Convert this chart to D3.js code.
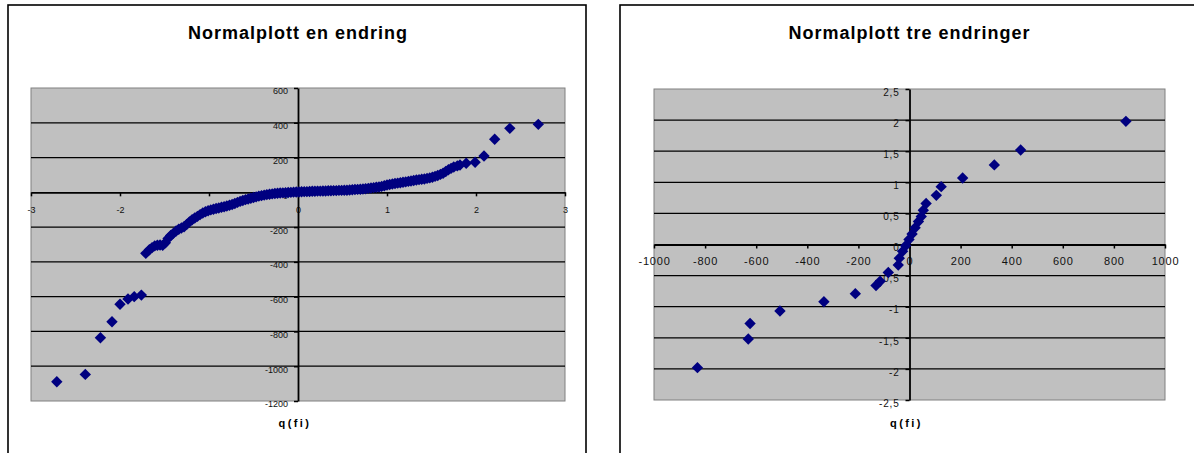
<!DOCTYPE html>
<html>
<head>
<meta charset="utf-8">
<script src="https://cdn.jsdelivr.net/npm/d3@7"></script>
<style>
  body { margin: 0; background: #fff; }
  svg { display: block; }
  text { font-family: "Liberation Sans", Arial, sans-serif; }
</style>
</head>
<body>
<svg id="chart" width="1194" height="453"></svg>
<script>
// Normalplott, én endring: kvantil q(fi) mot sortert verdi
const enQ = [
  -2.71, -2.39, -2.22, -2.09, -2.00, -1.91, -1.84, -1.76,
  -1.71, -1.67, -1.64, -1.61, -1.58, -1.55, -1.52, -1.49, -1.46, -1.43, -1.40, -1.37,
  -1.34, -1.31, -1.28, -1.25, -1.22, -1.19, -1.16, -1.13, -1.10, -1.07,
  -1.04, -1.01, -0.98, -0.95, -0.92, -0.89, -0.86, -0.83, -0.80, -0.77,
  -0.74, -0.71, -0.68, -0.65, -0.62, -0.59, -0.56, -0.53, -0.50, -0.47,
  -0.44, -0.41, -0.38, -0.35, -0.32, -0.29, -0.26, -0.23, -0.20, -0.17,
  -0.14, -0.11, -0.08, -0.05, -0.02, 0.01, 0.04, 0.07, 0.10, 0.13,
  0.16, 0.19, 0.22, 0.25, 0.28, 0.31, 0.34, 0.37, 0.40, 0.43,
  0.46, 0.49, 0.52, 0.55, 0.58, 0.61, 0.64, 0.67, 0.70, 0.73,
  0.76, 0.79, 0.82, 0.85, 0.88, 0.91, 0.94, 0.97, 1.00, 1.03,
  1.06, 1.09, 1.12, 1.15, 1.18, 1.21, 1.24, 1.27, 1.30, 1.33,
  1.36, 1.39, 1.42, 1.45, 1.48, 1.51, 1.54, 1.57, 1.60, 1.63,
  1.66, 1.69, 1.72, 1.75, 1.79, 1.82, 1.89, 1.99, 2.09, 2.21,
  2.38, 2.70
];
const enVerdi = [
  -1089, -1047, -836, -744, -644, -613, -600, -591,
  -351, -330, -318, -308, -304, -303, -305, -290, -265, -248, -236, -222,
  -212, -205, -198, -184, -170, -158, -148, -138, -128, -119,
  -112, -106, -101, -97, -93, -90, -86, -83, -79, -74,
  -70, -64, -58, -52, -47, -42, -38, -34, -30, -26,
  -22, -19, -16, -13, -11, -9, -7, -5, -4, -3,
  -2, -1, 0, 1, 2, 2, 3, 4, 4, 5,
  6, 6, 7, 7, 8, 8, 9, 9, 10, 10,
  11, 11, 12, 12, 13, 15, 16, 17, 18, 19,
  21, 23, 25, 27, 29, 31, 34, 38, 42, 45,
  48, 51, 53, 55, 58, 60, 63, 65, 68, 71,
  73, 75, 77, 80, 83, 87, 92, 97, 103, 110,
  120, 130, 138, 146, 152, 157, 167, 173, 209, 305,
  368, 391
];

// Normalplott, tre endringer: verdi mot kvantil q(fi)
const treVerdi = [
  -830, -631, -624, -507, -335, -212, -131, -115, -83, -44,
  -40, -27, -15, -2, 10, 22, 35, 46, 54, 65,
  105, 124, 208, 332, 435, 847
];
const treQ = [
  -1.98, -1.52, -1.27, -1.07, -0.92, -0.79, -0.66, -0.59, -0.45, -0.33,
  -0.22, -0.11, -0.02, 0.08, 0.17, 0.27, 0.37, 0.45, 0.55, 0.66,
  0.79, 0.93, 1.07, 1.28, 1.52, 1.98
];

const enXTicks = [-3, -2, -1, 0, 1, 2, 3];
const enYTicks = [600, 400, 200, 0, -200, -400, -600, -800, -1000, -1200];
const treXTicks = [-1000, -800, -600, -400, -200, 0, 200, 400, 600, 800, 1000];
const treYTicks = [2.5, 2, 1.5, 1, 0.5, 0, -0.5, -1, -1.5, -2, -2.5];

const titler = ["Normalplott en endring", "Normalplott tre endringer"];
const aksetittel = "q(fi)";

// Norsk tallformat: desimalkomma, vanlig bindestrek som minus
const nb = d3.formatLocale({ decimal: ",", thousands: " ", grouping: [3], currency: ["", " kr"], minus: "-" });
const fmt = nb.format("~g");

const svg = d3.select("#chart");

const diamond = r => `M0,${-r}L${r},0L0,${r}L${-r},0Z`;

function drawPanel(opt) {
  const g = svg.append("g");

  // ytre ramme
  g.append("rect")
    .attr("x", opt.frame[0]).attr("y", opt.frame[1])
    .attr("width", opt.frame[2]).attr("height", opt.frame[3])
    .attr("fill", "#fff").attr("stroke", "#000").attr("stroke-width", 1.6);

  const [x0, y0, x1, y1] = opt.plot;
  const x = d3.scaleLinear().domain(opt.xDomain).range([x0, x1]);
  const y = d3.scaleLinear().domain(opt.yDomain).range([y1, y0]);

  // plottområde
  g.append("rect")
    .attr("x", x0).attr("y", y0).attr("width", x1 - x0).attr("height", y1 - y0)
    .attr("fill", "#c0c0c0").attr("stroke", "#808080").attr("stroke-width", 1);

  // horisontale rutenettlinjer
  g.append("g").selectAll("line")
    .data(opt.yTicks.filter(v => v !== 0 && v !== opt.yDomain[0] && v !== opt.yDomain[1]))
    .join("line")
    .attr("x1", x0).attr("x2", x1)
    .attr("y1", d => y(d)).attr("y2", d => y(d))
    .attr("stroke", "#000").attr("stroke-width", 1.2);

  // x-akse gjennom y = 0
  const xAxis = g.append("g")
    .attr("transform", `translate(0,${y(0)})`)
    .call(d3.axisBottom(x).tickValues(opt.xTicks).tickFormat(fmt)
      .tickSize(4).tickSizeOuter(0).tickPadding(opt.xPad));
  xAxis.select(".domain").attr("stroke", "#000").attr("stroke-width", 1.8);
  xAxis.selectAll(".tick line").attr("stroke", "#000").attr("stroke-width", 1.5);
  xAxis.selectAll(".tick text")
    .attr("fill", "#111").attr("font-size", opt.xFont)
    .attr("letter-spacing", opt.xSpacing).attr("font-family", null);

  // y-akse gjennom x = 0
  const yAxis = g.append("g")
    .attr("transform", `translate(${x(0)},0)`)
    .call(d3.axisLeft(y).tickValues(opt.yTicks).tickFormat(fmt)
      .tickSize(4).tickSizeOuter(0).tickPadding(6));
  yAxis.select(".domain").attr("stroke", "#000").attr("stroke-width", 1.8);
  yAxis.selectAll(".tick line").attr("stroke", "#000").attr("stroke-width", 1.5);
  yAxis.selectAll(".tick text")
    .attr("fill", "#111").attr("font-size", opt.yFont).attr("y", 3)
    .attr("letter-spacing", opt.ySpacing).attr("font-family", null);
  g.selectAll(".tick text").style("font-family", '"Liberation Sans", Arial, sans-serif');

  // punkter
  g.append("g").selectAll("path")
    .data(d3.range(opt.xs.length))
    .join("path")
    .attr("d", diamond(5.7))
    .attr("transform", i => `translate(${x(opt.xs[i])},${y(opt.ys[i])})`)
    .attr("fill", "#000080");

  // tittel
  g.append("text")
    .attr("x", (x0 + x1) / 2).attr("y", 39)
    .attr("text-anchor", "middle")
    .attr("font-size", 18).attr("font-weight", "bold")
    .attr("letter-spacing", 1)
    .text(opt.title);

  // aksetittel
  g.append("text")
    .attr("x", (x0 + x1) / 2 - 3).attr("y", 427)
    .attr("text-anchor", "middle")
    .attr("font-size", 11).attr("font-weight", "bold")
    .attr("letter-spacing", 2.4)
    .text(aksetittel);
}

drawPanel({
  frame: [8, 5, 578, 470],
  plot: [31, 88, 565, 401],
  xDomain: [-3, 3], yDomain: [-1200, 600],
  xTicks: enXTicks, yTicks: enYTicks,
  xs: enQ, ys: enVerdi,
  xFont: 9, yFont: 9, xSpacing: 0, ySpacing: 0, xPad: 10,
  title: titler[0]
});

drawPanel({
  frame: [620, 5, 600, 470],
  plot: [654, 89, 1165, 400],
  xDomain: [-1000, 1000], yDomain: [-2.5, 2.5],
  xTicks: treXTicks, yTicks: treYTicks,
  xs: treVerdi, ys: treQ,
  xFont: 11, yFont: 10, xSpacing: 0.8, ySpacing: 0.8, xPad: 9,
  title: titler[1]
});
</script>
</body>
</html>
